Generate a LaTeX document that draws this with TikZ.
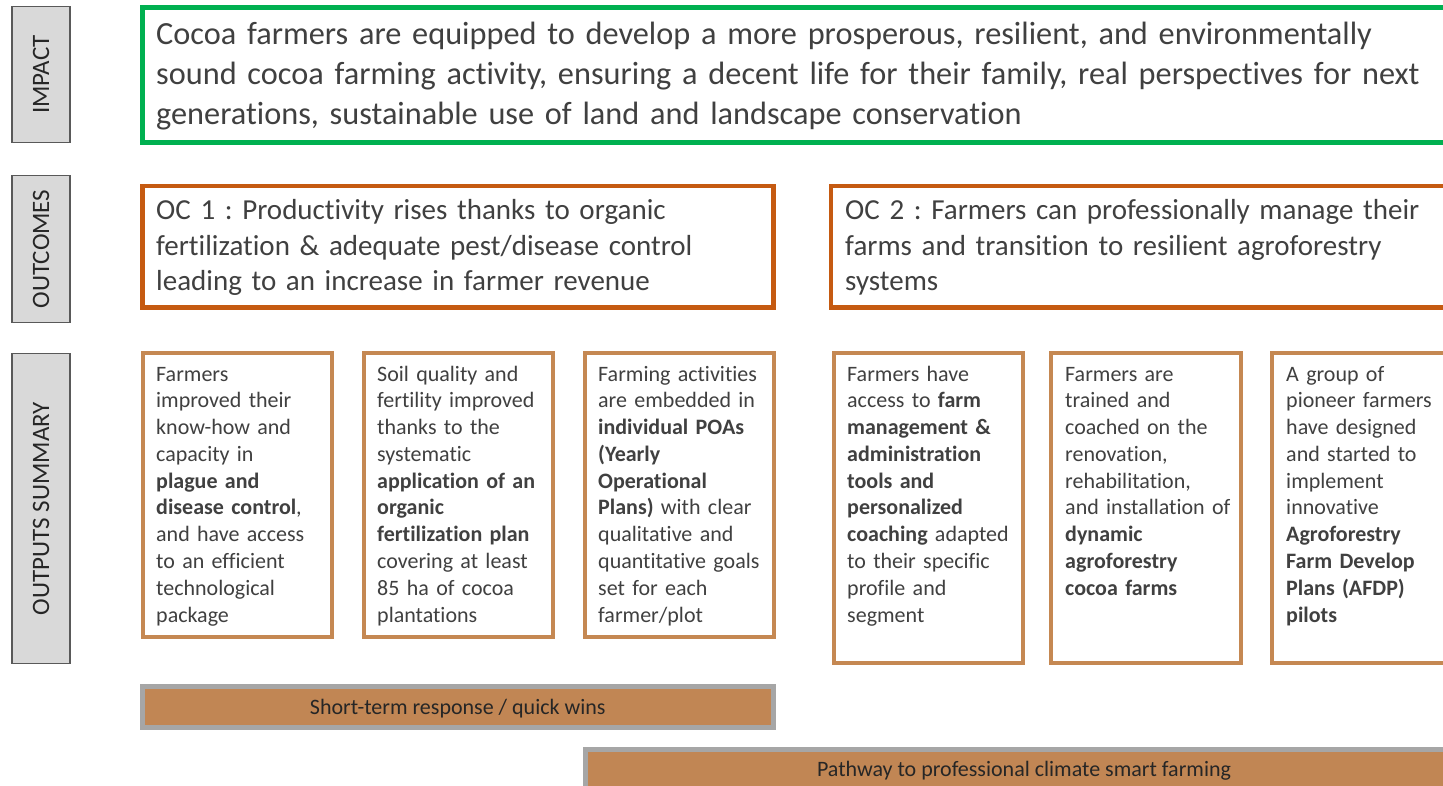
\documentclass[tikz,border=0pt]{standalone}
\usepackage{fontspec}
\setmainfont{Carlito}[Ligatures=NoCommon]
\definecolor{impactgreen}{RGB}{0,176,80}
\definecolor{ocorange}{RGB}{197,90,17}
\definecolor{outtan}{RGB}{197,136,82}
\definecolor{barfill}{RGB}{193,134,84}
\definecolor{barline}{RGB}{166,166,166}
\definecolor{labfill}{RGB}{217,217,217}
\definecolor{labline}{RGB}{89,89,89}
\definecolor{bodytext}{RGB}{64,64,64}
\definecolor{darktext}{RGB}{38,38,38}
\frenchspacing
\begin{document}
\begin{tikzpicture}[x=1pt,y=-1pt,
  sidelabel/.style={draw=labline, fill=labfill, line width=1.4pt, inner sep=0pt, outer sep=0pt,
    rotate=90, minimum height=58pt, text=darktext, font=\fontsize{25}{30}\selectfont},
  frame/.style={inner sep=0pt, outer sep=0pt, anchor=north west, fill=white},
  impactframe/.style={frame, draw=impactgreen, line width=4.5pt},
  ocframe/.style={frame, draw=ocorange, line width=4.5pt},
  outframe/.style={frame, draw=outtan, line width=4pt, minimum width=189.5pt},
  impacttext/.style={anchor=base west, inner sep=0pt, text width=1300pt, align=left,
    text=bodytext, font=\fontsize{32.3}{40}\selectfont},
  octext/.style={anchor=base west, inner sep=0pt, text width=660pt, align=left,
    text=bodytext, font=\fontsize{29}{35.5}\selectfont},
  outtext/.style={anchor=base west, inner sep=0pt, text width=185pt, align=left,
    text=bodytext, font=\fontsize{22}{26.8}\selectfont},
  bar/.style={draw=barline, fill=barfill, line width=5pt, inner sep=0pt, outer sep=0pt, anchor=north west},
  bartext/.style={anchor=base, inner sep=0pt, text=darktext, font=\fontsize{22}{26}\selectfont}
]
\useasboundingbox (0,0) rectangle (1443,786);
\clip (0,0) rectangle (1443,786);

% row headings
\node[sidelabel, minimum width=135.5pt] (labimpact) at (41,74.5) {IMPACT};
\node[sidelabel, minimum width=146.5pt] (laboutcomes) at (41,249) {OUTCOMES};
\node[sidelabel, minimum width=310.5pt] (laboutputs) at (41,508.5) {OUTPUTS SUMMARY};

% impact
\node[impactframe, minimum width=1400pt, minimum height=135pt] (impact) at (142.5,7.5) {};
\node[impacttext] (impacttxt) at (156,45) {Cocoa farmers are equipped to develop a more prosperous, resilient, and environmentally\\
sound cocoa farming activity, ensuring a decent life for their family, real perspectives for next\\
generations, sustainable use of land and landscape conservation};

% outcomes
\node[ocframe, minimum width=631pt, minimum height=121.5pt] (oc1) at (142.5,186) {};
\node[octext] (oc1txt) at (156,220) {OC 1 : Productivity rises thanks to organic\\
fertilization \& adequate pest/disease control\\
leading to an increase in farmer revenue};
\node[ocframe, minimum width=700pt, minimum height=121.5pt] (oc2) at (831,186) {};
\node[octext] (oc2txt) at (845,220) {OC 2 : Farmers can professionally manage their\\
farms and transition to resilient agroforestry\\
systems};

% outputs
\node[outframe, minimum height=284pt] (out1) at (142.5,352.5) {};
\node[outtext] (out1txt) at (156,381) {Farmers\\
improved their\\
know-how and\\
capacity in\\
\textbf{plague and}\\
\textbf{disease control},\\
and have access\\
to an efficient\\
technological\\
package};

\node[outframe, minimum height=284pt] (out2) at (363.5,352.5) {};
\node[outtext] (out2txt) at (377,381) {Soil quality and\\
fertility improved\\
thanks to the\\
systematic\\
\textbf{application of an}\\
\textbf{organic}\\
\textbf{fertilization plan}\\
covering at least\\
85 ha of cocoa\\
plantations};

\node[outframe, minimum height=284pt] (out3) at (584.5,352.5) {};
\node[outtext] (out3txt) at (598,381) {Farming activities\\
are embedded in\\
\textbf{individual POAs}\\
\textbf{(Yearly}\\
\textbf{Operational}\\
\textbf{Plans)} with clear\\
qualitative and\\
quantitative goals\\
set for each\\
farmer/plot};

\node[outframe, minimum width=188.5pt, minimum height=310pt] (out4) at (834,352.5) {};
\node[outtext] (out4txt) at (847,381) {Farmers have\\
access to \textbf{farm}\\
\textbf{management \&}\\
\textbf{administration}\\
\textbf{tools and}\\
\textbf{personalized}\\
\textbf{coaching} adapted\\
to their specific\\
profile and\\
segment};

\node[outframe, minimum height=310pt] (out5) at (1051,352.5) {};
\node[outtext] (out5txt) at (1065,381) {Farmers are\\
trained and\\
coached on the\\
renovation,\\
rehabilitation,\\
and installation of\\
\textbf{dynamic}\\
\textbf{agroforestry}\\
\textbf{cocoa farms}};

\node[outframe, minimum height=310pt] (out6) at (1272,352.5) {};
\node[outtext] (out6txt) at (1286,381) {A group of\\
pioneer farmers\\
have designed\\
and started to\\
implement\\
innovative\\
\textbf{Agroforestry}\\
\textbf{Farm Develop}\\
\textbf{Plans (AFDP)}\\
\textbf{pilots}};

% time horizon bars
\node[bar, minimum width=630.5pt, minimum height=41pt] (quickbar) at (142.5,686) {};
\node[bartext] (quicktxt) at (457.75,714) {Short-term response / quick wins};
\node[bar, minimum width=877pt, minimum height=60pt] (pathbar) at (585.5,749) {};
\node[bartext] (pathtxt) at (1024,776) {Pathway to professional climate smart farming};
\end{tikzpicture}
\end{document}
